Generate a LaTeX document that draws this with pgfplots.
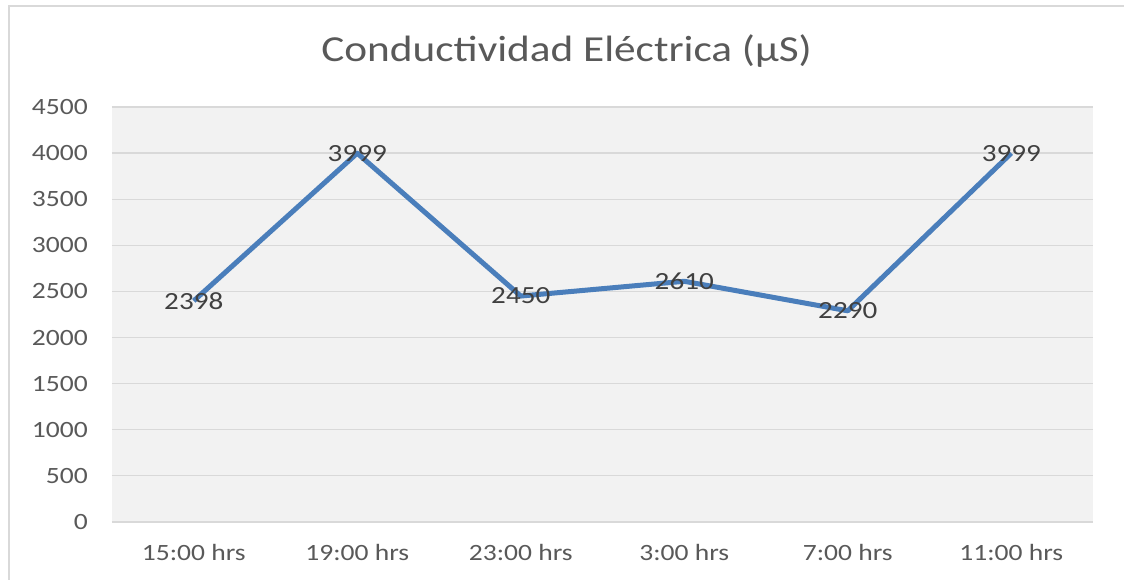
\documentclass[border=0pt]{standalone}
\usepackage{pgfplots}
\pgfplotsset{compat=1.18}
\usepackage{fontspec}
\setmainfont{Carlito}[FakeStretch=1.18]
\definecolor{gridc}{HTML}{D9D9D9}
\definecolor{bgc}{HTML}{F2F2F2}
\definecolor{linec}{HTML}{4A7EBB}
\definecolor{tickc}{HTML}{595959}
\definecolor{labc}{HTML}{404040}
\begin{document}
\begin{tikzpicture}
\path[use as bounding box] (0,0) rectangle (843pt,435pt);
\draw[gridc, line width=1.5pt] (6.75pt,0) -- (6.75pt,430.5pt) -- (843pt,430.5pt);
\node[text=tickc, font=\fontsize{27.5}{31}\selectfont, inner sep=0pt] at (425pt,397pt) {Conductividad Eléctrica (µS)};
\begin{axis}[
  at={(84pt,43.5pt)}, anchor=south west,
  scale only axis, width=735.75pt, height=311.25pt,
  xmin=-0.5, xmax=5.5, ymin=0, ymax=4500,
  ytick={0,500,...,4500},
  xtick={0,1,2,3,4,5},
  xticklabels={15:00 hrs,19:00 hrs,23:00 hrs,3:00 hrs,7:00 hrs,11:00 hrs},
  axis background/.style={fill=bgc},
  ymajorgrids, grid style={gridc, line width=0.9pt},
  axis line style={draw=none},
  axis x line*=bottom, axis y line*=left,
  x axis line style={gridc, line width=0.9pt},
  y axis line style={draw=none},
  major tick length=0pt,
  /pgf/number format/assume math mode=true,
  /pgf/number format/1000 sep={},
  tick label style={text=tickc, font=\fontsize{17.5}{20}\selectfont, inner sep=0pt},
  xticklabel style={anchor=center, yshift=-22.5pt},
  yticklabel style={anchor=east, xshift=-18pt},
  clip=false,
]
\addplot[linec, line width=3.75pt, line join=round, mark=none,
  nodes near coords,
  every node near coord/.append style={anchor=center, text=labc, font=\fontsize{18.5}{21}\selectfont, inner sep=0pt},
  point meta=explicit symbolic]
  table[meta=lab] {
x y lab
0 2398 2398
1 3999 3999
2 2450 2450
3 2610 2610
4 2290 2290
5 3999 3999
};
\end{axis}
\end{tikzpicture}
\end{document}
